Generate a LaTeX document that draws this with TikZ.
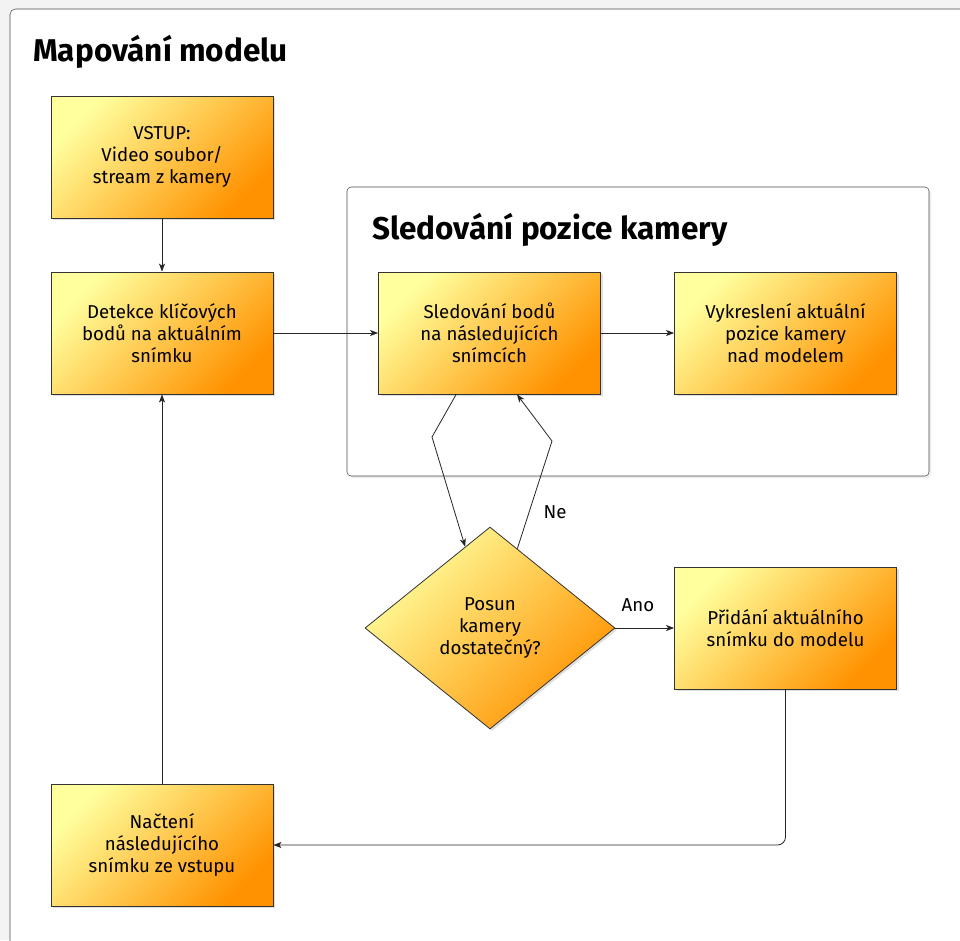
\documentclass[tikz,border=0pt]{standalone}
\usepackage{fontspec}
\setmainfont{Fira Sans}
\usetikzlibrary{shapes.geometric,shadows,arrows.meta}

\begin{document}
\begin{tikzpicture}[x=0.75pt, y=-0.75pt,
    krok/.style={rectangle, draw=black!80, line width=0.6pt,
      left color=svetla, right color=tmava, shading angle=45,
      minimum width=166.5pt, minimum height=91.5pt, align=center,
      font=\fontsize{14}{16.5}\selectfont,
      drop shadow={shadow xshift=1.5pt, shadow yshift=-1.5pt, opacity=0.25}},
    rozhod/.style={krok, diamond, minimum width=187.5pt, minimum height=151.5pt,
      inner sep=0pt, aspect=1.24},
    nadpis/.style={font=\fontsize{23.6}{28}\selectfont\bfseries, anchor=base west, inner sep=0pt},
    sipka/.style={-{Stealth[length=6pt, width=4.5pt, inset=1.5pt]}, line width=0.6pt, draw=black!85},
    popis/.style={font=\fontsize{14}{16.5}\selectfont}]
    % Barvy
    \definecolor{svetla}{HTML}{FFFF9E}
    \definecolor{tmava}{HTML}{FF9200}
    \definecolor{pozadi}{HTML}{F3F3F3}

    \useasboundingbox (0,0) rectangle (960,940);
    \clip (0,0) rectangle (960,940);

    % Pozadi a vnejsi ramec
    \fill[pozadi] (0,0) rectangle (960,940);
    \draw[gray!60!black, fill=white, rounded corners=4pt,
      drop shadow={shadow xshift=1.5pt, shadow yshift=-1.5pt, opacity=0.15}] (10,9) rectangle (990,970);
    \node[nadpis] (hlavni) at (33,61) {Mapování modelu};

    % Vnitrni blok
    \draw[gray!60!black, fill=white, rounded corners=3pt,
      drop shadow={shadow xshift=1.5pt, shadow yshift=-1.5pt, opacity=0.15}] (347,187) rectangle (929,476);
    \node[nadpis] (sledovanipozice) at (372,239) {Sledování pozice kamery};

    % Kroky: {jmeno/x/y/text}
    \foreach \jmeno/\x/\y/\text in {
        vstup/162/157/{VSTUP:\\Video soubor/\\stream z kamery},
        detekce/162/333/{Detekce klíčových\\bodů na aktuálním\\snímku},
        sledovani/489.5/333/{Sledování bodů\\na následujících\\snímcích},
        vykresleni/785.5/333/{Vykreslení aktuální\\pozice kamery\\nad modelem},
        pridani/785.5/628/{Přidání aktuálního\\snímku do modelu},
        nacteni/162/845/{Načtení\\následujícího\\snímku ze vstupu}} {
        \node[krok] (\jmeno) at (\x,\y) {\text};
    }

    % Rozhodnuti
    \node[rozhod] (posun) at (490,628) {Posun\\kamery\\dostatečný?};

    % Zlomy car
    \coordinate (zlomA) at (432,437);
    \coordinate (zlomB) at (552,441);

    % Spojnice
    \draw[sipka] (vstup) -- (detekce);
    \draw[sipka] (detekce) -- (sledovani);
    \draw[sipka] (sledovani) -- (vykresleni);
    \draw[sipka] ([xshift=-25pt]sledovani.south) -- (zlomA) -- (posun.107);
    \draw[sipka] (posun.71) -- (zlomB) -- ([xshift=20.6pt]sledovani.south);
    \node[popis] (ne) at (555,512) {Ne};
    \draw[sipka] (posun.east) -- (pridani.west);
    \node[popis] (ano) at (638,605) {Ano};
    \draw[sipka, rounded corners=6pt] (pridani.south) |- (nacteni.east);
    \draw[sipka] (nacteni) -- (detekce);
\end{tikzpicture}
\end{document}
